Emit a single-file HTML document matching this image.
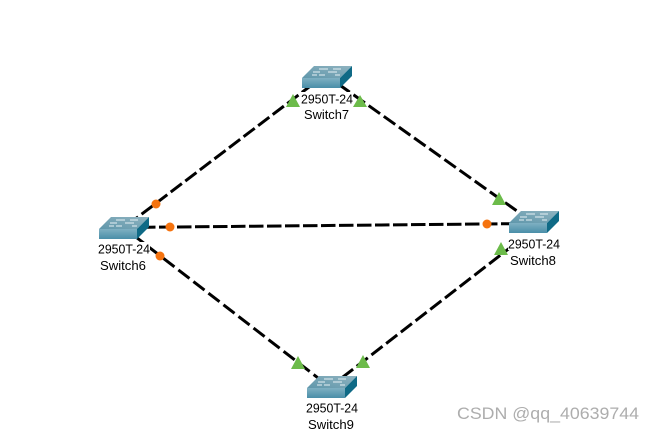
<!DOCTYPE html>
<html>
<head>
<meta charset="utf-8">
<style>
html,body{margin:0;padding:0;background:#fff;width:654px;height:432px;overflow:hidden}
svg{display:block}
text{font-family:"Liberation Sans",sans-serif}
.l{font-size:12.5px;fill:#000;text-anchor:middle}
</style>
</head>
<body>
<svg width="654" height="432" viewBox="0 0 654 432" xmlns="http://www.w3.org/2000/svg">
<defs>
<linearGradient id="f" x1="0" y1="0" x2="0" y2="1">
<stop offset="0" stop-color="#7fb0c2"/>
<stop offset="1" stop-color="#4a8ea8"/>
</linearGradient>
<linearGradient id="t" x1="0" y1="1" x2="1" y2="0">
<stop offset="0" stop-color="#5f97ab"/>
<stop offset="1" stop-color="#8fb3c0"/>
</linearGradient>
<g id="sw">
<polygon points="0,0 12,-12 50,-12 38,0" fill="url(#t)"/>
<polygon points="0,0 38,0 38,10 0,10" fill="url(#f)"/>
<polygon points="38,0 50,-12 50,-2 38,10" fill="#0f6a86"/>
<path d="M17,-9h9M31,-9h8M11,-6h7M26,-6h9M10,-3h5M17,-3h6M33,-3h5" stroke="#e6f0f4" stroke-width="1" fill="none"/>
</g>
</defs>
<g stroke="#000" stroke-width="3" fill="none">
<path d="M127,225.300 L311,85.500" stroke-dasharray="14 4.300"/>
<path d="M338.300,84 L524,216" stroke-dasharray="14 4.600"/>
<path d="M123,227.500 L512,223.700" stroke-dasharray="14.500 3.500"/>
<path d="M133.300,235 L322,381" stroke-dasharray="14 5"/>
<path d="M342,377.700 L520,240" stroke-dasharray="14 4.600"/>
</g>
<use href="#sw" x="302" y="78"/>
<use href="#sw" x="99" y="229"/>
<use href="#sw" x="509" y="223"/>
<use href="#sw" x="307" y="388"/>
<g fill="#fff">
<rect x="301" y="92" width="52" height="13"/>
<rect x="98" y="242" width="52" height="13"/>
<rect x="508" y="237" width="52" height="13"/>
<rect x="306" y="401" width="52" height="13"/>
</g>
<g fill="#f5730f">
<circle cx="156" cy="204" r="4.5"/>
<circle cx="170" cy="227" r="4.5"/>
<circle cx="160" cy="256" r="4.5"/>
<circle cx="487" cy="224" r="4.5"/>
</g>
<g fill="#6cbb4a">
<polygon points="293,94 300,107 286,107"/>
<polygon points="360,95 367,107 353,107"/>
<polygon points="499,192 506,205 492,205"/>
<polygon points="501,242 508,255 494,255"/>
<polygon points="298,356 305,369 291,369"/>
<polygon points="363,355 370,368 356,368"/>
</g>
<text class="l" x="327" y="103.500" textLength="52" lengthAdjust="spacingAndGlyphs">2950T-24</text>
<text class="l" x="326.500" y="119" textLength="45" lengthAdjust="spacingAndGlyphs">Switch7</text>
<text class="l" x="124" y="253.500" textLength="52" lengthAdjust="spacingAndGlyphs">2950T-24</text>
<text class="l" x="123" y="270" textLength="46" lengthAdjust="spacingAndGlyphs">Switch6</text>
<text class="l" x="534" y="248.500" textLength="52" lengthAdjust="spacingAndGlyphs">2950T-24</text>
<text class="l" x="533" y="265" textLength="46" lengthAdjust="spacingAndGlyphs">Switch8</text>
<text class="l" x="332" y="412.500" textLength="52" lengthAdjust="spacingAndGlyphs">2950T-24</text>
<text class="l" x="331" y="429" textLength="46" lengthAdjust="spacingAndGlyphs">Switch9</text>
<text x="457" y="419" font-size="17" fill="#adadad" textLength="182" lengthAdjust="spacingAndGlyphs">CSDN @qq_40639744</text>
</svg>
</body>
</html>
